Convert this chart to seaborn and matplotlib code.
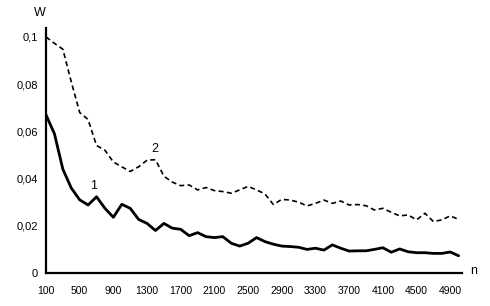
import numpy as np
import pandas as pd
import matplotlib
matplotlib.use("Agg")
import matplotlib.pyplot as plt
import seaborn as sns

n_values = list(range(100, 5001, 100))
series1 = [0.067, 0.059, 0.044, 0.036, 0.031, 0.0288, 0.0323, 0.0274, 0.0236, 0.0291,
           0.0274, 0.0227, 0.021, 0.018, 0.021, 0.019, 0.0185, 0.0158, 0.0171, 0.0154,
           0.015, 0.0154, 0.0126, 0.0114, 0.0126, 0.015, 0.0133, 0.0122, 0.0114, 0.0112,
           0.0109, 0.0100, 0.0105, 0.0097, 0.0119, 0.0105, 0.0093, 0.0094, 0.0094, 0.0100,
           0.0107, 0.0088, 0.0102, 0.0090, 0.0086, 0.0086, 0.0083, 0.0083, 0.0089, 0.0073]
series2 = [0.100, 0.0973, 0.0948, 0.081, 0.068, 0.065, 0.054, 0.052, 0.047, 0.045,
           0.043, 0.045, 0.0478, 0.048, 0.041, 0.0385, 0.037, 0.0373, 0.0352, 0.0362,
           0.0349, 0.0345, 0.0338, 0.0352, 0.0367, 0.0352, 0.0335, 0.0290, 0.0312, 0.0309,
           0.0300, 0.0284, 0.0295, 0.0309, 0.0295, 0.0305, 0.0288, 0.0290, 0.0285, 0.0267,
           0.0274, 0.0257, 0.0242, 0.0246, 0.0225, 0.0253, 0.0218, 0.0225, 0.0242, 0.0227]
x_ticks = list(range(100, 5000, 400))
y_ticks = [0, 0.02, 0.04, 0.06, 0.08, 0.1]
y_tick_labels = ["0", "0,02", "0,04", "0,06", "0,08", "0,1"]

sns.set_style("white")
plt.rcParams['font.family'] = ['Liberation Sans', 'DejaVu Sans']
plt.rcParams['text.color'] = 'black'
plt.rcParams['xtick.color'] = 'black'
plt.rcParams['ytick.color'] = 'black'

df = pd.DataFrame({"n": n_values * 2,
                   "W": series1 + series2,
                   "s": ["1"] * len(n_values) + ["2"] * len(n_values)})

fig = plt.figure(figsize=(4.9, 3.06), dpi=100)
ax = fig.add_axes([46/490, 1 - 273/306, (462 - 46)/490, (273 - 27.5)/306])

sns.lineplot(data=df[df.s == "1"], x="n", y="W", ax=ax, color="black", linewidth=2.0)
sns.lineplot(data=df[df.s == "2"], x="n", y="W", ax=ax, color="black", linewidth=1.2,
             linestyle=(0, (3, 2)))

ax.set_xlim(100, 5040)
ax.set_ylim(0, 0.104)
ax.set_xticks(x_ticks)
ax.set_xticklabels([str(v) for v in x_ticks], fontsize=7.5)
ax.set_yticks(y_ticks)
ax.set_yticklabels(y_tick_labels, fontsize=8)
ax.set_xlabel("")
ax.set_ylabel("")
for s in ["top", "right"]:
    ax.spines[s].set_visible(False)
for s in ["left", "bottom"]:
    ax.spines[s].set_linewidth(1.6)
    ax.spines[s].set_color("black")
ax.tick_params(axis="both", direction="out", length=3, width=1, colors="black", pad=3)
ax.tick_params(axis="x", pad=6)

ax.text(670, 0.0369, "1", fontsize=9, ha="center", va="center", color="black")
ax.text(1395, 0.0525, "2", fontsize=9, ha="center", va="center", color="black")
fig.text(40/490, 1 - 13/306, "W", fontsize=9, ha="center", va="center", color="black")
fig.text(474/490, 1 - 271/306, "n", fontsize=9, ha="center", va="center", color="black")

fig.savefig("out.png", dpi=100)
